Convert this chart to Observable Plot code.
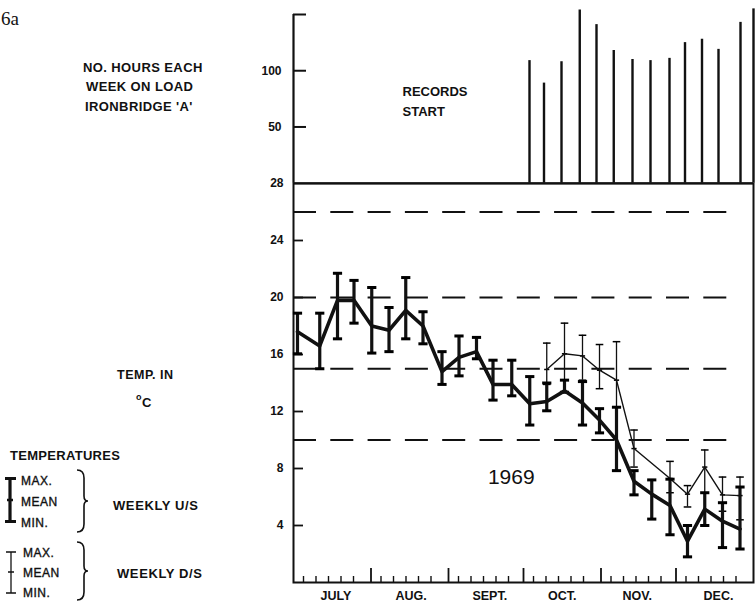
<!DOCTYPE html>
<html>
<head>
<meta charset="utf-8">
<script src="https://cdn.jsdelivr.net/npm/d3@7"></script>
<script src="https://cdn.jsdelivr.net/npm/@observablehq/plot@0.6"></script>
<style>
  html, body { margin: 0; padding: 0; background: #fff; }
  #chart { position: relative; width: 756px; height: 606px; background: #fff; overflow: hidden; }
  #chart > div, #chart > svg { position: absolute; left: 0; }
  text { font-family: "Liberation Sans", Arial, sans-serif; }
</style>
</head>
<body>
<div id="chart">
  <div id="topPanel" style="top:0"></div>
  <div id="bottomPanel" style="top:173px"></div>
  <svg id="notes" width="756" height="606" style="top:0"></svg>
</div>
<script>
// ---------- DATA (days counted from 1 July 1969) ----------
// Hours each week on load, Ironbridge 'A'
const hoursDay = [94.4, 100.2, 107.2, 114.5, 121.2, 128.1, 135.6, 142.8, 150.4, 156.6, 163.4, 170, 178.8, 184];
const hoursOnLoad = [109, 89, 108, 154, 141, 118, 110, 109, 111, 125, 128, 119, 143, 155];

// Weekly U/S temperatures (°C)
const usDay  = [1.6, 10.5, 17.6, 24.2, 31.3, 38.2, 44.9, 51.8, 59.4, 66.2, 73.2, 79.8, 87.3, 94.5, 101.3, 108.4, 115.6, 122.4, 129.2, 136.2, 143.3, 150.6, 157.6, 164.5, 171.6, 178.6];
const usMean = [17.6, 16.6, 19.8, 19.8, 18.0, 17.7, 19.1, 18.0, 14.8, 15.8, 16.2, 13.9, 13.9, 12.55, 12.7, 13.45, 12.6, 11.4, 10.0, 7.1, 6.2, 5.4, 2.9, 5.15, 4.3, 3.75];
const usMax  = [18.9, 18.9, 21.7, 21.2, 20.7, 19.3, 21.4, 19.0, 16.2, 17.3, 17.2, 15.6, 15.6, 14.45, 14.0, 14.2, 14.1, 12.2, 12.3, 7.85, 7.2, 7.25, 4.0, 6.3, 5.6, 6.7];
const usMin  = [16.05, 15.0, 17.1, 18.2, 16.1, 16.2, 17.1, 16.75, 13.9, 14.5, 15.7, 12.8, 13.1, 11.05, 12.05, 13.35, 11.05, 10.5, 7.85, 6.15, 4.45, 3.35, 1.8, 4.0, 2.45, 2.35];

// Weekly D/S temperatures (°C)
const dsDay  = [101.3, 108.4, 115.6, 122.4, 129.2, 136.2, 150.6, 157.6, 164.5, 171.6, 178.6];
const dsMean = [14.95, 16.05, 15.9, 14.9, 14.2, 9.4, 7.3, 6.2, 8.1, 6.15, 6.1];
const dsMax  = [16.8, 18.2, 17.35, 16.7, 16.9, 10.7, 8.5, 6.8, 9.3, 7.4, 7.4];
const dsMin  = [13.9, 14.2, 14.2, 13.6, 12.3, 8.1, 6.3, 5.3, 6.3, 5.0, 4.4];

// Reference (dashed) levels, axis ticks and labels
const refLevels = [26, 20, 15, 10];
const tempTicks = [28, 24, 20, 16, 12, 8, 4];
const tempTickMarks = [24, 20, 16, 12, 8, 4];
const hourTicks = [100, 50];
const hourTickMarks = [150, 100, 50];
const monthStartDay = [31, 62, 92, 123, 153];
const monthLabelDay = [17, 47, 78.5, 107.5, 137.5, 170];
const monthLabels = ["JULY", "AUG.", "SEPT.", "OCT.", "NOV.", "DEC."];
const dayOfMonthTicks = [5, 10, 15, 20, 25];
const yearLabel = [{text: "1969", day: 87.1, temp: 7.35}];
const recordsLabel = [{text: "RECORDS\nSTART", day: 43.6, hours: 74}];

// ---------- derived tables ----------
const jul1 = Date.UTC(1969, 6, 1);
const minorTicks = d3.utcMonth.range(new Date(jul1), new Date(Date.UTC(1970, 0, 1)))
  .flatMap(m => dayOfMonthTicks.map(d => (Date.UTC(m.getUTCFullYear(), m.getUTCMonth(), d) - jul1) / 864e5));
const hoursData = hoursDay.map((d, i) => ({day: d, hours: hoursOnLoad[i]}));
const us = usDay.map((d, i) => ({day: d, mean: usMean[i], max: usMax[i], min: usMin[i]}));
const ds = dsDay.map((d, i) => ({day: d, mean: dsMean[i], max: dsMax[i], min: dsMin[i]}));
const monthLabelMap = new Map(monthLabelDay.map((d, i) => [d, monthLabels[i]]));

const hline = { draw(ctx, size) { const r = Math.sqrt(size / Math.PI); ctx.moveTo(-r, 0); ctx.lineTo(r, 0); } };

const FONT = {fontFamily: "'Liberation Sans', Arial, sans-serif", fontSize: "12px", fontWeight: "bold", background: "transparent", color: "#111"};
const W = 756, ML = 293, MR = 3, PW = W - ML - MR;

// ---------- top panel: hours on load ----------
const topH = 190, topMT = 14, topMB = 7.3;
const topPlot = Plot.plot({
  width: W, height: topH,
  marginLeft: ML, marginRight: MR, marginTop: topMT, marginBottom: topMB,
  style: FONT,
  x: {domain: [0, 184], axis: null},
  y: {domain: [0, 150], label: null},
  marks: [
    Plot.ruleX([0], {strokeWidth: 2.2}),
    Plot.ruleY(hourTickMarks, {strokeWidth: 2, insetRight: PW - 13}),
    Plot.axisY(hourTicks, {tickSize: 0, tickPadding: 12, label: null, fontSize: 12}),
    Plot.ruleX(hoursData, {x: "day", y1: 0, y2: "hours", strokeWidth: 2.4}),
    Plot.ruleY([0], {strokeWidth: 2}),
    Plot.text(recordsLabel, {x: "day", y: "hours", text: "text", textAnchor: "start", lineHeight: 1.55, fontSize: 13, fontWeight: "bold", letterSpacing: 0.4})
  ]
});
document.getElementById("topPanel").appendChild(topPlot);

// ---------- bottom panel: temperatures ----------
const botH = 433, botMT = 10, botMB = 24;
const PH = botH - botMT - botMB;
const botPlot = Plot.plot({
  width: W, height: botH,
  marginLeft: ML, marginRight: MR, marginTop: botMT, marginBottom: botMB,
  style: FONT,
  x: {domain: [0, 184]},
  y: {domain: [0, 28], label: null},
  marks: [
    Plot.ruleY(refLevels, {strokeWidth: 1.8, strokeDasharray: "23,14.3", insetRight: 18}),
    Plot.frame({strokeWidth: 2}),
    Plot.ruleY(tempTickMarks, {strokeWidth: 1.8, insetRight: PW - 10}),
    Plot.axisY(tempTicks, {tickSize: 0, tickPadding: 10, label: null}),
    Plot.ruleX(minorTicks, {strokeWidth: 1.4, insetTop: PH - 6}),
    Plot.ruleX(monthStartDay, {strokeWidth: 1.8, insetTop: PH - 14}),
    Plot.axisX(monthLabelDay, {tickSize: 0, tickPadding: 9, label: null, tickFormat: d => monthLabelMap.get(d), fontSize: 12.5, letterSpacing: 0.8}),
    // D/S (thin)
    Plot.ruleX(ds, {x: "day", y1: "min", y2: "max", strokeWidth: 1.3}),
    Plot.dot(ds, {x: "day", y: "max", symbol: hline, r: 3.8, fill: "none", stroke: "black", strokeWidth: 1.5}),
    Plot.dot(ds, {x: "day", y: "min", symbol: hline, r: 3.8, fill: "none", stroke: "black", strokeWidth: 1.5}),
    Plot.dot(ds, {x: "day", y: "mean", symbol: hline, r: 2.6, fill: "none", stroke: "black", strokeWidth: 1.5}),
    Plot.line(ds, {x: "day", y: "mean", strokeWidth: 1.4, strokeLinejoin: "round"}),
    // U/S (thick)
    Plot.ruleX(us, {x: "day", y1: "min", y2: "max", strokeWidth: 3.2}),
    Plot.dot(us, {x: "day", y: "max", symbol: hline, r: 4.6, fill: "none", stroke: "black", strokeWidth: 3}),
    Plot.dot(us, {x: "day", y: "min", symbol: hline, r: 4.6, fill: "none", stroke: "black", strokeWidth: 3}),
    Plot.line(us, {x: "day", y: "mean", strokeWidth: 3.6, strokeLinejoin: "round"}),
    Plot.text(yearLabel, {x: "day", y: "temp", text: "text", fontSize: 21, fontWeight: "normal", letterSpacing: 2.5})
  ]
});
document.getElementById("bottomPanel").appendChild(botPlot);

// ---------- annotations / legend (left side) ----------
const notes = d3.select("#notes");
const bold = "bold";
function txt(x, y, s, size, weight, extra = {}) {
  const t = notes.append("text").attr("x", x).attr("y", y).attr("font-size", size)
    .attr("font-weight", weight).attr("fill", "#111").text(s);
  for (const [k, v] of Object.entries(extra)) t.attr(k, v);
  return t;
}
txt(1, 25, "6a", 19, "normal", {style: "font-family:'Liberation Serif',serif"});
txt(83, 71.5, "NO. HOURS EACH", 13, bold, {"letter-spacing": 0.4});
txt(86, 91, "WEEK ON LOAD", 13, bold, {"letter-spacing": 0.4});
txt(85, 110.5, "IRONBRIDGE 'A'", 13, bold, {"letter-spacing": 0.4});
txt(117, 379, "TEMP. IN", 12.5, bold, {"letter-spacing": 0.5});
txt(136, 400, "o", 9, bold);
txt(142, 406.5, "C", 13, bold);
txt(10, 460, "TEMPERATURES", 13, bold, {"letter-spacing": 0.3});

// U/S legend glyph
const g = notes.append("g").attr("stroke", "#111").attr("fill", "none");
g.append("path").attr("d", "M10,478.5 V521.5").attr("stroke-width", 3.2);
g.append("path").attr("d", "M5,478.5 H16 M5,521.5 H16").attr("stroke-width", 2.8);
g.append("path").attr("d", "M7,500 H13").attr("stroke-width", 2.5);
// D/S legend glyph
g.append("path").attr("d", "M11,552 V593").attr("stroke-width", 1.3);
g.append("path").attr("d", "M6,552 H16 M6,593 H16 M8,572 H14").attr("stroke-width", 1.5);
// braces
function brace(x, y0, y1) {
  const m = (y0 + y1) / 2;
  return `M${x},${y0} Q${x + 7},${y0} ${x + 7},${y0 + 8} L${x + 7},${m - 5} Q${x + 7},${m} ${x + 11},${m} Q${x + 7},${m} ${x + 7},${m + 5} L${x + 7},${y1 - 8} Q${x + 7},${y1} ${x},${y1}`;
}
g.append("path").attr("d", brace(77, 470, 532)).attr("stroke-width", 1.6);
g.append("path").attr("d", brace(77, 542, 600)).attr("stroke-width", 1.6);

const medium = {"letter-spacing": 0.5, stroke: "#111", "stroke-width": 0.35};
txt(21, 485, "MAX.", 12, "normal", medium);
txt(21, 506, "MEAN", 12, "normal", medium);
txt(21, 526.5, "MIN.", 12, "normal", medium);
txt(113, 510, "WEEKLY U/S", 13, bold, {"letter-spacing": 0.6});
txt(23, 557, "MAX.", 12, "normal", medium);
txt(23, 577, "MEAN", 12, "normal", medium);
txt(23, 597, "MIN.", 12, "normal", medium);
txt(117, 578, "WEEKLY D/S", 13, bold, {"letter-spacing": 0.6});
</script>
</body>
</html>
